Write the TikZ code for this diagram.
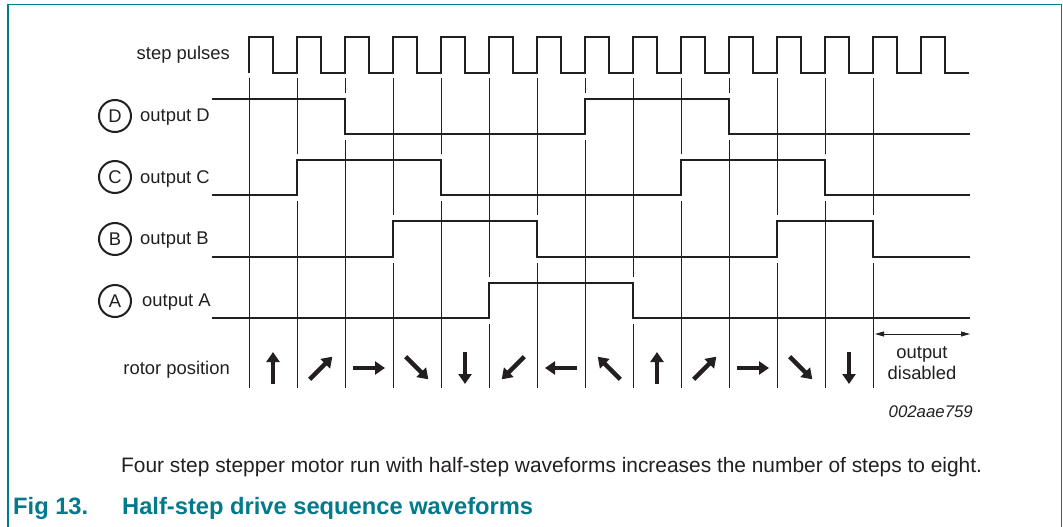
\documentclass[tikz,border=0pt]{standalone}
\usepackage{fontspec}
\setmainfont{Liberation Sans}
\usetikzlibrary{arrows.meta,positioning}
\definecolor{nxpteal}{RGB}{0,122,140}
\definecolor{ink}{RGB}{35,31,32}

\begin{document}
\begin{tikzpicture}[x=1pt, y=-1pt,
  lbl/.style={inner sep=0pt, text=ink, font=\fontsize{18.4}{20.7}\selectfont},
  tag/.style={draw=ink, circle, line width=2pt, minimum size=32pt, inner sep=0pt, text=ink, font=\fontsize{18.4}{20.7}\selectfont},
  wave/.style={draw=ink, line width=2.7pt, line join=miter},
  gridline/.style={draw=ink, line width=0.9pt},
  gapline/.style={draw=white, line width=4pt},
  rotor/.style={draw=ink, line width=4.5pt, -{Triangle[length=10pt,width=13pt]}},
  >=Stealth]
\useasboundingbox (0,0) rectangle (1063,527);
\fill[white] (0,0) rectangle (1063,527);
% frame
\draw[nxpteal, line width=1.3pt] (8,527) -- (8,4.5) -- (1061.5,4.5) -- (1061.5,527);
% grid lines, one per step
\foreach \k in {0,...,13}
  \draw[gridline] ({249+48*\k},78) -- ({249+48*\k},388);
% breaks in the grid at each edge: step / high / low
\foreach \k/\yh/\yl in {2/99/134, 7/99/134, 10/99/134, 1/160/195, 4/160/195, 9/160/195, 12/160/195,
                        3/221/257, 6/221/257, 11/221/257, 13/221/257, 5/283/318, 8/283/318}
  \draw[gapline] ({249+48*\k},\yh-6) -- ({249+48*\k},\yl+6);
% step pulses
\draw[wave] (249,73) \foreach \k in {0,...,14} { -- ++(0,-36) -- ++(24,0) -- ++(0,36) -- ++(24,0) };
% outputs
\draw[wave] (212,99) -- (345,99) -- (345,134) -- (585,134) -- (585,99) -- (729,99) -- (729,134) -- (970,134);
\draw[wave] (212,195) -- (297,195) -- (297,160) -- (441,160) -- (441,195) -- (681,195) -- (681,160) -- (825,160) -- (825,195) -- (970,195);
\draw[wave] (212,257) -- (393,257) -- (393,221) -- (537,221) -- (537,257) -- (777,257) -- (777,221) -- (873,221) -- (873,257) -- (970,257);
\draw[wave] (212,318) -- (489,318) -- (489,283) -- (633,283) -- (633,318) -- (970,318);
% labels
\node[lbl, anchor=east] (pulses) at (230,55) {step pulses};
\node[tag] (tagD) at (115,116) {D};
\node[lbl, right=8pt of tagD, yshift=-1.5pt] (outD) {output D};
\node[tag] (tagC) at (115,177) {C};
\node[lbl, right=8pt of tagC, yshift=-1.5pt] (outC) {output C};
\node[tag] (tagB) at (115,239) {B};
\node[lbl, right=8pt of tagB, yshift=-1.5pt] (outB) {output B};
\node[tag] (tagA) at (115,301) {A};
\node[lbl, right=10pt of tagA, yshift=-1.5pt] (outA) {output A};
\node[lbl, anchor=east] (rotorpos) at (230,370) {rotor position};
% rotor arrows, 45 degrees per half step (y runs downwards)
\foreach \k in {0,...,12} {
  \pgfmathsetmacro\ang{45*\k-90}
  \draw[rotor] ({273+48*\k},368) ++(\ang+180:16) -- ++(\ang:32);
}
% output disabled
\coordinate (disL) at (875,334);
\coordinate (disR) at (970,334);
\draw[ink, line width=0.8pt, {Triangle[length=9pt,width=5pt]}-{Triangle[length=9pt,width=5pt]}] (disL) -- (disR);
\node[lbl, align=center] (disabled) at (922,363) {output\\disabled};
\node[lbl, anchor=east, font=\fontsize{16.8}{20}\selectfont\itshape] (figid) at (973,412) {002aae759};
% caption
\node[lbl, anchor=base west, font=\fontsize{20.9}{25}\selectfont] (caption) at (121,472)
  {Four step stepper motor run with half-step waveforms increases the number of steps to eight.};
\node[inner sep=0pt, anchor=base west, text=nxpteal, font=\fontsize{23.7}{28}\selectfont\bfseries] (fignum) at (13,514) {Fig 13.};
\node[inner sep=0pt, anchor=base west, text=nxpteal, font=\fontsize{23.7}{28}\selectfont\bfseries] (figtitle) at (122,514) {Half-step drive sequence waveforms};
\end{tikzpicture}
\end{document}
